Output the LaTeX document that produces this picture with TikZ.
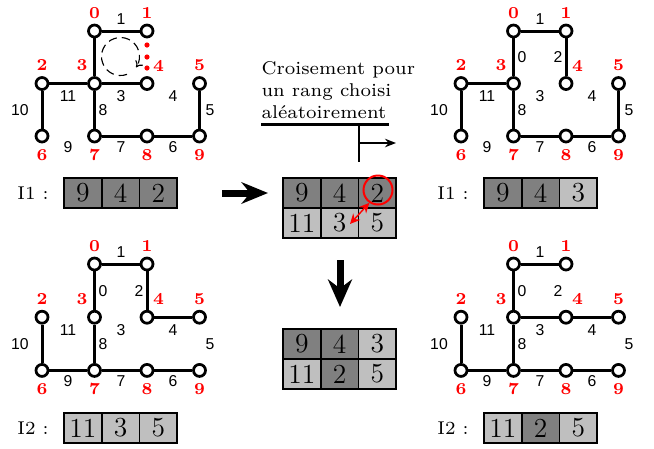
\documentclass[tikz,border=0pt]{standalone}
\usepackage{fontspec}
\newfontfamily\labfont{Liberation Sans}
\usetikzlibrary{arrows.meta}
\newcommand\mkgraph[4]{%
  \foreach \k/\cx/\ry in {0/1/0,1/2/0,2/0/1,3/1/1,4/2/1,5/3/1,6/0/2,7/1/2,8/2/2,9/3/2}{
    \node[vert] (#1\k) at ({#2+42+52.5*\cx},{#3+31+#4*\ry}) {};
  }
  \foreach \k/\dx/\dy in {0/0/-18,1/0/-18,2/0/-18,3/-12.5/-18,4/11.5/-18,5/0/-18,6/0/19,7/0/19,8/0/19,9/0/19}{
    \path (#1\k) ++(\dx,\dy) node[rlab] (#1r\k) {\k};
  }
}
\newcommand\mklabels[5]{%
  \foreach \t/\ex/\ry/\dy in #5{
    \node[elab] (#1e\t) at ({#2+\ex},{#3+31+#4*\ry+\dy}) {\t};
  }
}
\newcommand\alllabels{1/121/0/-12,0/103/0.5/0,2/139/0.5/0,11/68/1/13,3/121/1/13,4/173/1/13,10/20/1.5/0,8/103/1.5/0,5/210/1.5/0,9/68/2/11,7/121/2/11,6/173/2/11}
\newcommand\alabels{1/121/0/-12,11/68/1/13,3/121/1/13,4/173/1/13,10/20/1.5/0,8/103/1.5/0,5/210/1.5/0,9/68/2/11,7/121/2/11,6/173/2/11}
\begin{document}
\begin{tikzpicture}[x=0.4pt,y=-0.4pt,
  vert/.style={circle,draw,line width=1.1pt,fill=white,minimum size=4.8pt,inner sep=0pt},
  edge/.style={line width=1.2pt},
  rlab/.style={text=red,font=\fontsize{6.7}{7}\selectfont\bfseries,inner sep=0pt},
  elab/.style={font=\fontsize{6.3}{7}\labfont,inner sep=0pt},
  cell/.style={draw=black,line width=0.7pt,minimum width=15.08pt,minimum height=12pt,inner sep=0pt,font=\fontsize{11}{13}\selectfont},
  dk/.style={cell,fill=gray},
  lt/.style={cell,fill=lightgray},
  tag/.style={font=\fontsize{7.4}{8}\selectfont,inner sep=0pt},
  bigarrow/.style={line width=2.8pt,-{Stealth[length=10.6pt,width=8.6pt]}}]
\useasboundingbox (0,0) rectangle (654,448);

% ---------- top-left graph ----------
\mkgraph{A}{0}{0}{52.5}
\foreach \a/\b in {0/1,0/3,2/3,3/4,2/6,3/7,7/8,8/9,5/9} \draw[edge] (A\a) -- (A\b);
\mklabels{A}{0}{0}{52.5}{\alabels}
\coordinate (cc) at (120.5,56.5);
\draw[line width=0.45pt,dash pattern=on 3.4pt off 2pt,-{To[length=2.4pt,width=3.6pt]}]
  (cc) ++(-290:19) arc[start angle=-290,end angle=35,radius=19];
\foreach \yy in {45,57,68} \fill[red] (147,\yy) circle[radius=2.6];

% ---------- top-right graph ----------
\mkgraph{B}{419}{0}{52.5}
\foreach \a/\b in {0/1,0/3,1/4,2/3,2/6,3/7,7/8,8/9,5/9} \draw[edge] (B\a) -- (B\b);
\mklabels{B}{419}{0}{52.5}{\alllabels}

% ---------- bottom-left graph ----------
\mkgraph{C}{0}{233}{53.2}
\foreach \a/\b in {0/1,0/3,1/4,4/5,2/6,3/7,6/7,7/8,8/9} \draw[edge] (C\a) -- (C\b);
\mklabels{C}{0}{233}{53.2}{\alllabels}

% ---------- bottom-right graph ----------
\mkgraph{D}{419}{233}{53.2}
\foreach \a/\b in {0/1,0/3,3/4,4/5,2/6,3/7,6/7,7/8,8/9} \draw[edge] (D\a) -- (D\b);
\mklabels{D}{419}{233}{53.2}{\alllabels}

% ---------- arrays ----------
\node[tag] (tI1l) at (33,193) {I1 :};
\node[dk] (p1) at (82.85,193) {9};
\node[dk] (p2) at (120.55,193) {4};
\node[dk] (p3) at (158.25,193) {2};

\node[tag] (tI1r) at (453,193) {I1 :};
\node[dk] (q1) at (502.85,193) {9};
\node[dk] (q2) at (540.55,193) {4};
\node[lt] (q3) at (578.25,193) {3};

\node[tag] (tI2l) at (33,428) {I2 :};
\node[lt] (r1) at (82.85,428) {11};
\node[lt] (r2) at (120.55,428) {3};
\node[lt] (r3) at (158.25,428) {5};

\node[tag] (tI2r) at (453,428) {I2 :};
\node[lt] (s1) at (502.85,428) {11};
\node[dk] (s2) at (540.55,428) {2};
\node[lt] (s3) at (578.25,428) {5};

% center grid (crossover)
\node[dk] (m1) at (301.85,193) {9};
\node[dk] (m2) at (339.55,193) {4};
\node[dk] (m3) at (377.25,193) {2};
\node[lt] (m4) at (301.85,223) {11};
\node[lt] (m5) at (339.55,223) {3};
\node[lt] (m6) at (377.25,223) {5};

\node[dk] (n1) at (301.85,344) {9};
\node[dk] (n2) at (339.55,344) {4};
\node[lt] (n3) at (377.25,344) {3};
\node[lt] (n4) at (301.85,374) {11};
\node[dk] (n5) at (339.55,374) {2};
\node[lt] (n6) at (377.25,374) {5};

% red circle and swap arrow
\node[circle,draw=red,line width=0.8pt,minimum size=11.6pt,inner sep=0pt] (rc) at (378,190) {};
\coordinate (sw) at (350,224);
\draw[red,line width=0.55pt,{Stealth[length=4pt,width=3.8pt]}-{Stealth[length=4pt,width=3.8pt]}] (rc.236) -- (sw);

% big arrows
\coordinate (ra1) at (222,193);
\coordinate (ra2) at (268,193);
\draw[bigarrow] (ra1) -- (ra2);
\coordinate (da1) at (340,260);
\coordinate (da2) at (340,307);
\draw[line width=2.8pt,-{Stealth[length=11pt,width=9.6pt]}] (da1) -- (da2);

% text and bracket
\node[anchor=north west,align=left,inner sep=0pt,font=\fontsize{7.4}{8.8}\selectfont] (txt) at (261,61)
  {Croisement pour\\un rang choisi\\al\'eatoirement};
\coordinate (h1) at (261,124);
\coordinate (h2) at (389,124);
\coordinate (v1) at (359,124);
\coordinate (v2) at (359,162);
\coordinate (a1) at (359,143);
\coordinate (a2) at (396,143);
\draw[line width=1.2pt] (h1) -- (h2);
\draw[line width=1pt] (v1) -- (v2);
\draw[line width=0.7pt,-{Stealth[length=4.4pt,width=3.4pt]}] (a1) -- (a2);
\end{tikzpicture}
\end{document}
